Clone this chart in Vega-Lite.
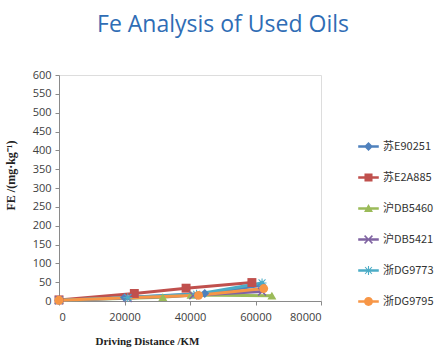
{
  "$schema": "https://vega.github.io/schema/vega-lite/v6.json",
  "autosize": "none",
  "width": 262,
  "height": 226,
  "padding": {"left": 59, "top": 75, "right": 126, "bottom": 60},
  "background": "white",
  "title": {
    "text": "Fe Analysis of Used Oils",
    "anchor": "middle",
    "frame": "group",
    "dx": 33,
    "offset": 32,
    "fontSize": 23,
    "fontWeight": "normal",
    "font": "Open Sans",
    "color": "#2f6db5"
  },
  "data": {
    "values": [
      {"car": "苏E90251", "km": 0, "fe": 2},
      {"car": "苏E90251", "km": 20000, "fe": 9},
      {"car": "苏E90251", "km": 44500, "fe": 20},
      {"car": "苏E90251", "km": 62000, "fe": 42},
      {"car": "苏E2A885", "km": 0, "fe": 3},
      {"car": "苏E2A885", "km": 23000, "fe": 20},
      {"car": "苏E2A885", "km": 38800, "fe": 34},
      {"car": "苏E2A885", "km": 58900, "fe": 49},
      {"car": "沪DB5460", "km": 0, "fe": 2},
      {"car": "沪DB5460", "km": 31700, "fe": 10},
      {"car": "沪DB5460", "km": 40300, "fe": 16},
      {"car": "沪DB5460", "km": 65000, "fe": 14},
      {"car": "沪DB5421", "km": 0, "fe": 2},
      {"car": "沪DB5421", "km": 21000, "fe": 8},
      {"car": "沪DB5421", "km": 41000, "fe": 15},
      {"car": "沪DB5421", "km": 62000, "fe": 25},
      {"car": "浙DG9773", "km": 0, "fe": 2},
      {"car": "浙DG9773", "km": 21000, "fe": 9},
      {"car": "浙DG9773", "km": 42000, "fe": 18},
      {"car": "浙DG9773", "km": 62000, "fe": 48},
      {"car": "浙DG9795", "km": 0, "fe": 2},
      {"car": "浙DG9795", "km": 42600, "fe": 15},
      {"car": "浙DG9795", "km": 62500, "fe": 33}
    ]
  },
  "encoding": {
    "x": {
      "field": "km", "type": "quantitative",
      "scale": {"domain": [0, 80000], "nice": false},
      "axis": {
        "values": [0, 20000, 40000, 60000, 80000],
        "format": "d",
        "grid": false,
        "title": "Driving Distance   /KM",
        "titleFont": "Liberation Serif",
        "titleFontWeight": "bold",
        "titleFontSize": 11,
        "titleColor": "#222",
        "titleAnchor": "start",
        "titleX": 36,
        "titleY": 40,
        "titleBaseline": "middle",
        "labelFont": "Open Sans",
        "labelFontSize": 11,
        "labelColor": "#404040",
        "domainColor": "#8a8a8a",
        "tickColor": "#8a8a8a",
        "tickSize": 4,
        "labelPadding": 6
      }
    },
    "y": {
      "field": "fe", "type": "quantitative",
      "scale": {"domain": [0, 600], "nice": false},
      "axis": {
        "values": [0, 50, 100, 150, 200, 250, 300, 350, 400, 450, 500, 550, 600],
        "grid": false,
        "title": "FE   /(mg·kg⁻¹)",
        "titleFont": "Liberation Serif",
        "titleFontWeight": "bold",
        "titleFontSize": 12,
        "titleColor": "#222",
        "titleX": -42,
        "titleY": 100,
        "labelFont": "Open Sans",
        "labelFontSize": 11,
        "labelColor": "#404040",
        "domainColor": "#8a8a8a",
        "tickColor": "#8a8a8a",
        "tickSize": 4,
        "labelPadding": 4
      }
    },
    "color": {
      "field": "car", "type": "nominal",
      "sort": ["苏E90251", "苏E2A885", "沪DB5460", "沪DB5421", "浙DG9773", "浙DG9795"],
      "scale": {"range": ["#4F81BD", "#C0504D", "#9BBB59", "#8064A2", "#4BACC6", "#F79646"]},
      "legend": {
        "orient": "none",
        "legendX": 304,
        "legendY": 66,
        "title": null,
        "labelFont": "Noto Sans CJK SC",
        "labelFontSize": 11,
        "labelColor": "#333",
        "symbolSize": 80,
        "rowPadding": 19,
        "labelOffset": 9,
        "encode": {"symbols": {"update": {
          "shape": {"signal": "['M-2.3,-0.3L2.3,-0.3L2.3,0.3L-2.3,0.3Z M0,-1L1,0L0,1L-1,0Z', 'M-2.3,-0.3L2.3,-0.3L2.3,0.3L-2.3,0.3Z M-0.9,-0.9L0.9,-0.9L0.9,0.9L-0.9,0.9Z', 'M-2.3,-0.3L2.3,-0.3L2.3,0.3L-2.3,0.3Z M0,-1L1,0.8L-1,0.8Z', 'M-2.3,-0.3L2.3,-0.3L2.3,0.3L-2.3,0.3Z M-1,-0.75L-0.75,-1L0,-0.25L0.75,-1L1,-0.75L0.25,0L1,0.75L0.75,1L0,0.25L-0.75,1L-1,0.75L-0.25,0Z', 'M-2.3,-0.3L2.3,-0.3L2.3,0.3L-2.3,0.3Z M-0.12,-1L0.12,-1L0.12,-0.3L0.7,-0.85L0.85,-0.7L0.3,-0.12L1,-0.12L1,0.12L0.3,0.12L0.85,0.7L0.7,0.85L0.12,0.3L0.12,1L-0.12,1L-0.12,0.3L-0.7,0.85L-0.85,0.7L-0.3,0.12L-1,0.12L-1,-0.12L-0.3,-0.12L-0.85,-0.7L-0.7,-0.85L-0.12,-0.3Z', 'M-2.3,-0.3L2.3,-0.3L2.3,0.3L-2.3,0.3Z M-1,0A1,1,0,1,1,1,0A1,1,0,1,1,-1,0Z'][indexof(['苏E90251', '苏E2A885', '沪DB5460', '沪DB5421', '浙DG9773', '浙DG9795'], datum.value)]"},
          "strokeWidth": {"value": 0}
        }}}
      }
    }
  },
  "layer": [
    {
      "mark": {"type": "line", "strokeWidth": 3},
      "encoding": {"detail": {"field": "car"}}
    },
    {
      "mark": {"type": "point", "filled": true, "size": 80, "opacity": 1},
      "encoding": {
        "shape": {
          "field": "car", "type": "nominal",
          "sort": ["苏E90251", "苏E2A885", "沪DB5460", "沪DB5421", "浙DG9773", "浙DG9795"],
          "scale": {"range": [
            "diamond",
            "square",
            "triangle-up",
            "M-1,-0.75L-0.75,-1L0,-0.25L0.75,-1L1,-0.75L0.25,0L1,0.75L0.75,1L0,0.25L-0.75,1L-1,0.75L-0.25,0Z",
            "M-0.12,-1L0.12,-1L0.12,-0.3L0.7,-0.85L0.85,-0.7L0.3,-0.12L1,-0.12L1,0.12L0.3,0.12L0.85,0.7L0.7,0.85L0.12,0.3L0.12,1L-0.12,1L-0.12,0.3L-0.7,0.85L-0.85,0.7L-0.3,0.12L-1,0.12L-1,-0.12L-0.3,-0.12L-0.85,-0.7L-0.7,-0.85L-0.12,-0.3Z",
            "circle"
          ]},
          "legend": null
        }
      }
    }
  ]
}
